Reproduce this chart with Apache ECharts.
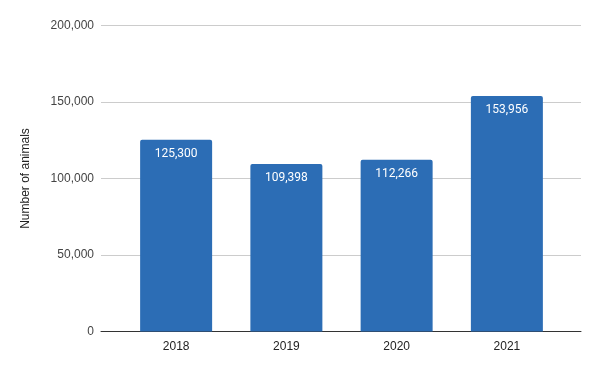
<!DOCTYPE html>
<html><head><meta charset="utf-8">
<script src="https://cdn.jsdelivr.net/npm/echarts@6/dist/echarts.min.js"></script>
<style>html,body{margin:0;padding:0;background:#fff}#c{width:600px;height:371px}</style>
</head><body><div id="c"></div>
<script>
const categories = ['2018', '2019', '2020', '2021'];
const animals = [125300, 109398, 112266, 153956];
const yTicks = [0, 50000, 100000, 150000, 200000];
const yTitle = 'Number of animals';

const fmt = v => v.toLocaleString('en-US');
const chart = echarts.init(document.getElementById('c'), null, {renderer: 'canvas'});
const yMax = yTicks[yTicks.length - 1];
const yStep = yTicks[1] - yTicks[0];
chart.setOption({
  animation: false,
  grid: [
    {left: 101, right: 19, top: 25.5, bottom: 39.5},
    {left: 121, right: 38, top: 25.5, bottom: 39.5}
  ],
  graphic: [{
    type: 'text', x: 26, y: 178.5, rotation: Math.PI / 2,
    style: {text: yTitle, fill: '#222', fontSize: 12, fontFamily: 'Liberation Sans, Arial',
      align: 'center', verticalAlign: 'middle'}
  }],
  xAxis: [
    {type: 'category', gridIndex: 0, data: [''], axisLine: {show: true, lineStyle: {color: '#333', width: 1}},
     axisTick: {show: false}, axisLabel: {show: false}},
    {type: 'category', gridIndex: 1, data: categories, axisLine: {show: false}, axisTick: {show: false},
     axisLabel: {color: '#222', fontSize: 12, fontFamily: 'Liberation Sans, Arial', margin: 9}}
  ],
  yAxis: [
    {type: 'value', gridIndex: 0, min: 0, max: yMax, interval: yStep,
     axisLine: {show: false}, axisTick: {show: false},
     axisLabel: {color: '#444', fontSize: 12, fontFamily: 'Liberation Sans, Arial', margin: 7, formatter: fmt},
     splitLine: {lineStyle: {color: '#ccc', width: 1}}},
    {type: 'value', gridIndex: 1, min: 0, max: yMax, interval: yStep, show: false, splitLine: {show: false}}
  ],
  series: [{
    type: 'bar', xAxisIndex: 1, yAxisIndex: 1, data: animals, barWidth: 72,
    itemStyle: {color: '#2c6db5', borderRadius: [2, 2, 0, 0]},
    label: {show: true, position: 'insideTop', distance: 8, color: '#fff', fontSize: 12,
      fontFamily: 'Roboto', formatter: p => fmt(p.value)}
  }]
});
</script></body></html>
